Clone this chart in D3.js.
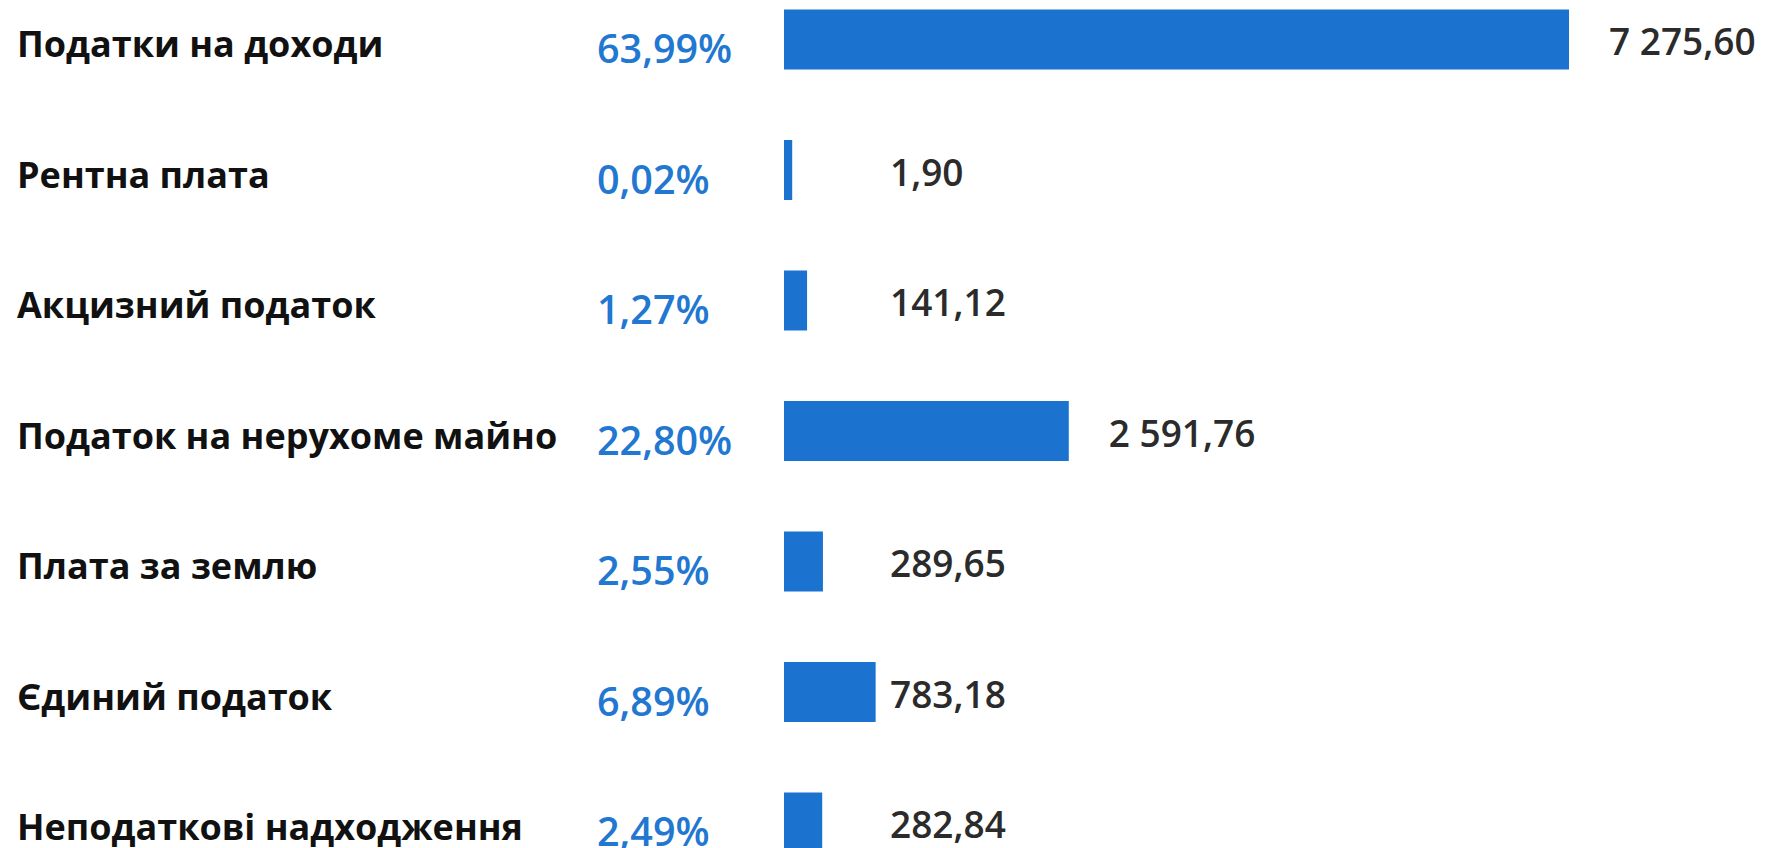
<!DOCTYPE html>
<html>
<head>
<meta charset="utf-8">
<script src="https://cdn.jsdelivr.net/npm/d3@7"></script>
<style>
  html, body { margin: 0; padding: 0; background: #ffffff; }
  svg { display: block; }
</style>
</head>
<body>
<svg id="chart" width="1770" height="848"></svg>
<script>
const categories = [
  "Податки на доходи",
  "Рентна плата",
  "Акцизний податок",
  "Податок на нерухоме майно",
  "Плата за землю",
  "Єдиний податок",
  "Неподаткові надходження"
];
const values = [7275.60, 1.90, 141.12, 2591.76, 289.65, 783.18, 282.84];
const shares = [63.99, 0.02, 1.27, 22.80, 2.55, 6.89, 2.49];

const fmtValue = d3.formatLocale({ decimal: ",", thousands: "\u00a0", grouping: [3], currency: ["", ""] }).format(",.2f");
const fmtShare = v => d3.format(".2f")(v).replace(".", ",") + "%";

const svg = d3.select("#chart");

const barLeft = 784;
const x = d3.scaleLinear().domain([0, d3.max(values)]).range([8, 785]);
const y = d3.scalePoint().domain(categories).range([39.5, 822.5]);
const barH = 60;

const rows = categories.map((c, i) => ({ c, v: values[i], s: shares[i] }));

const g = svg.append("g");

// category labels
g.selectAll("text.cat").data(rows).join("text")
  .attr("class", "cat")
  .attr("x", 17)
  .attr("y", d => y(d.c) + 17.5)
  .attr("font-family", "'Open Sans', 'Noto Sans', sans-serif")
  .attr("font-weight", 700)
  .attr("font-size", 36)
  .attr("fill", "#111111")
  .text(d => d.c);

// share labels
g.selectAll("text.share").data(rows).join("text")
  .attr("class", "share")
  .attr("x", 597)
  .attr("y", d => y(d.c) + 23.5)
  .attr("font-family", "'Open Sans', 'Noto Sans', sans-serif")
  .attr("font-weight", 600)
  .attr("font-size", 39.5)
  .attr("fill", "#2277d1")
  .text(d => fmtShare(d.s));

// bars
g.selectAll("rect.bar").data(rows).join("rect")
  .attr("class", "bar")
  .attr("x", barLeft)
  .attr("y", d => y(d.c) - barH / 2)
  .attr("width", d => x(d.v))
  .attr("height", barH)
  .attr("fill", "#1b73cf");

// value labels
const valueCol = 890;
g.selectAll("text.val").data(rows).join("text")
  .attr("class", "val")
  .attr("x", d => {
    const end = barLeft + x(d.v) + 40;
    return end > 950 ? end : valueCol;
  })
  .attr("y", d => y(d.c) + 15.5)
  .attr("font-family", "'Open Sans', 'Noto Sans', sans-serif")
  .attr("font-weight", 600)
  .attr("font-size", 37)
  .attr("fill", "#2b2b2b")
  .text(d => fmtValue(d.v));
</script>
</body>
</html>
